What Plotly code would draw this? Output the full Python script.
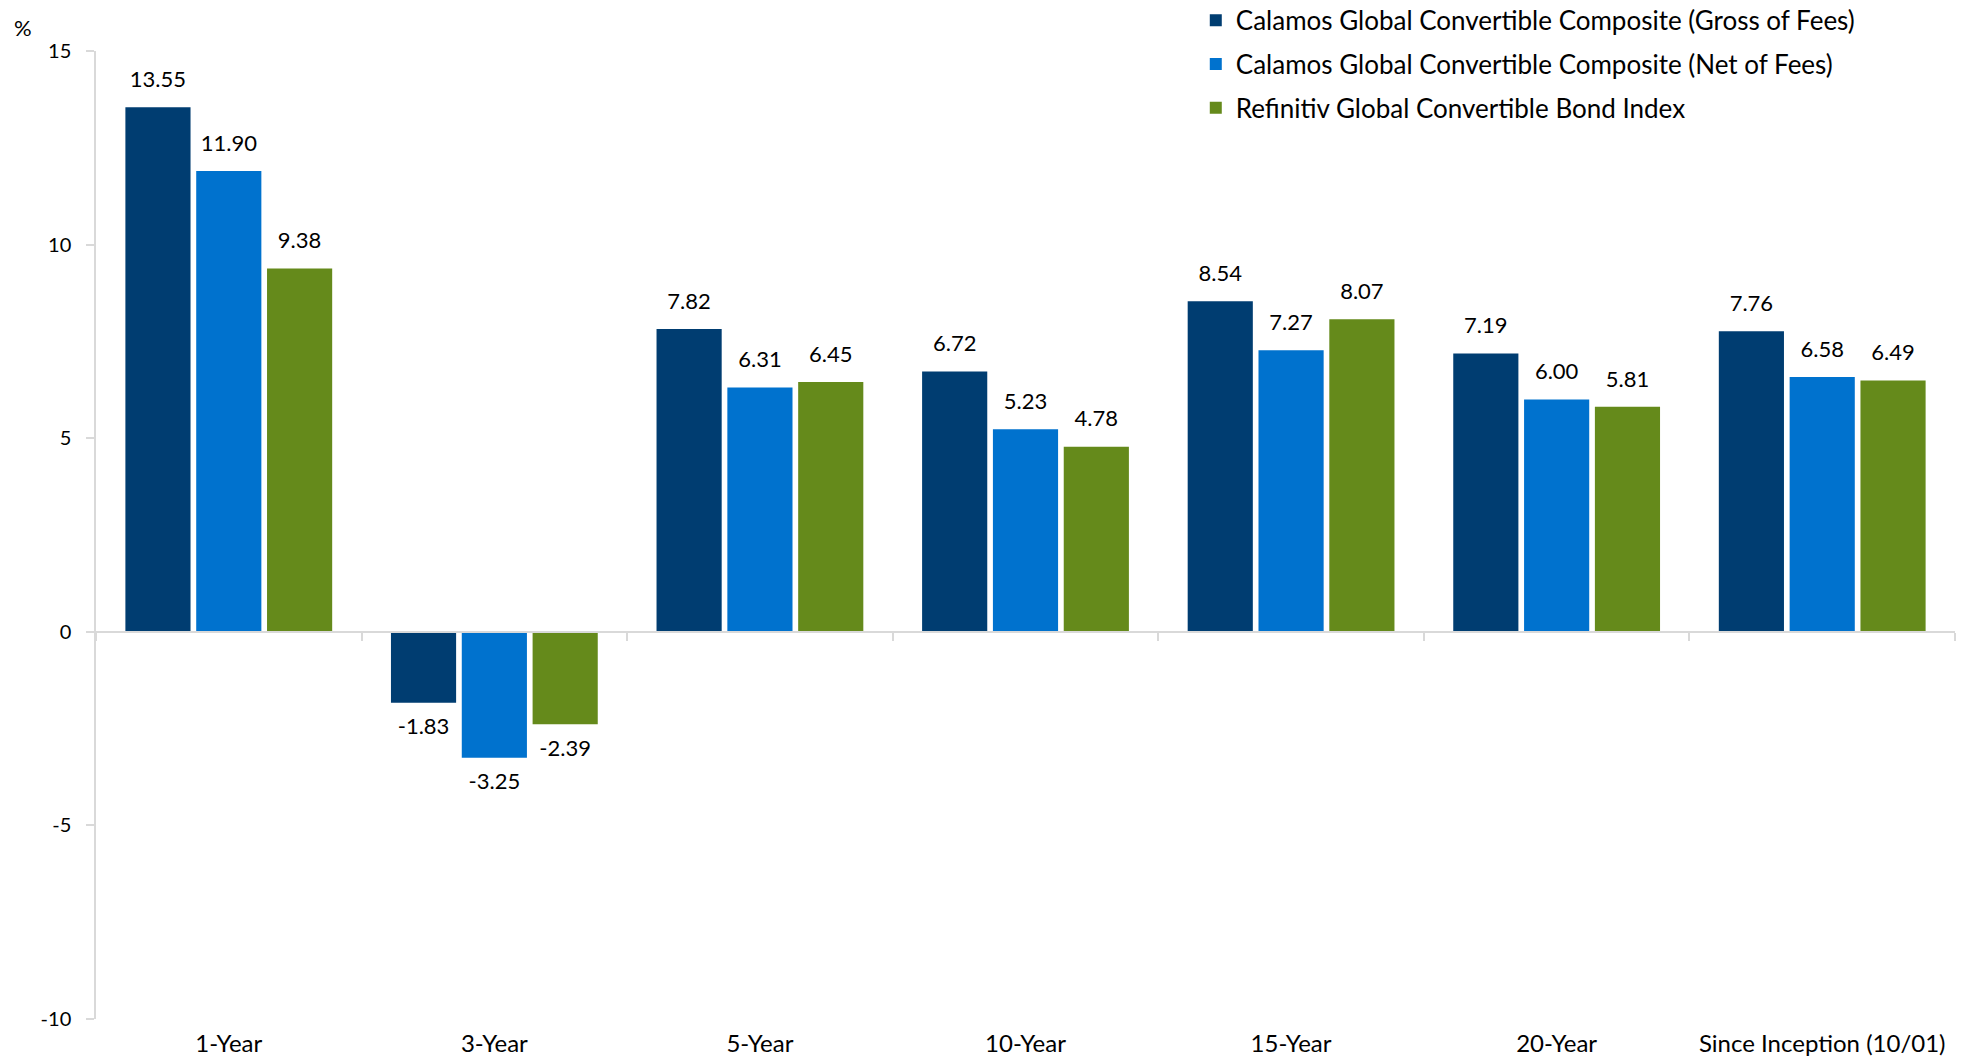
import plotly.graph_objects as go

categories = ["1-Year", "3-Year", "5-Year", "10-Year", "15-Year", "20-Year", "Since Inception (10/01)"]
series_names = [
    "Calamos Global Convertible Composite (Gross of Fees)",
    "Calamos Global Convertible Composite (Net of Fees)",
    "Refinitiv Global Convertible Bond Index",
]
gross = [13.55, -1.83, 7.82, 6.72, 8.54, 7.19, 7.76]
net = [11.90, -3.25, 6.31, 5.23, 7.27, 6.00, 6.58]
index_vals = [9.38, -2.39, 6.45, 4.78, 8.07, 5.81, 6.49]
colors = ["#003D71", "#0072CE", "#658A1B"]

y_tickvals = [15, 10, 5, 0, -5, -10]
y_ticktext = ["15", "10", "5", "0", "-5", "-10"]

FONT = "Lato"
AX = "#D9D9D9"

fig = go.Figure()
all_series = [gross, net, index_vals]
for i, (name, vals, col) in enumerate(zip(series_names, all_series, colors)):
    fig.add_trace(go.Bar(
        x=categories, y=vals, name=name, marker_color=col,
        marker_line_width=0, offsetgroup=str(i), legendgroup=str(i),
        hoverinfo="skip",
    ))
for i, vals in enumerate(all_series):
    fig.add_trace(go.Scatter(
        x=categories, y=vals, mode="markers+text",
        text=[f"{v:.2f}" for v in vals],
        textposition=["top center" if v >= 0 else "bottom center" for v in vals],
        textfont=dict(family=FONT, size=22, color="#000000"),
        marker=dict(size=22, opacity=0),
        offsetgroup=str(i), showlegend=False, hoverinfo="skip", cliponaxis=False,
    ))
# helper trace to draw the category axis line at zero
fig.add_trace(go.Scatter(x=categories, y=[None] * len(categories), xaxis="x2",
                         showlegend=False, hoverinfo="skip", mode="lines"))

fig.update_layout(
    width=1966, height=1059,
    margin=dict(l=96, r=11, t=51, b=40, autoexpand=False),
    paper_bgcolor="white", plot_bgcolor="white",
    barmode="group", bargap=0.2, bargroupgap=0.08,
    scattermode="group", scattergap=0.2,
    font=dict(family=FONT, color="#000000"),
    showlegend=True,
    legend=dict(
        x=0.5916, y=1.056, xanchor="left", yanchor="top",
        font=dict(family=FONT, size=26, color="#000000"),
        traceorder="grouped", tracegroupgap=7,
        bgcolor="rgba(0,0,0,0)",
    ),
    xaxis=dict(
        type="category", categoryorder="array", categoryarray=categories,
        range=[-0.5, 6.5], showline=False, ticks="", showgrid=False, zeroline=False,
        tickfont=dict(family=FONT, size=24, color="#000000"), ticklabelstandoff=8,
        automargin=False,
    ),
    xaxis2=dict(
        type="category", categoryorder="array", categoryarray=categories,
        range=[-0.5, 6.5], overlaying="x", anchor="free", position=0.4,
        showline=True, linecolor=AX, linewidth=1.5,
        ticks="outside", tickson="boundaries", ticklen=8, tickcolor=AX, tickwidth=1.5,
        showticklabels=False, showgrid=False, zeroline=False, automargin=False,
    ),
    yaxis=dict(
        range=[-10, 15], tickvals=y_tickvals, ticktext=y_ticktext,
        showline=True, linecolor=AX, linewidth=1.5,
        ticks="outside", ticklen=8, tickcolor=AX, tickwidth=1.5,
        showgrid=False, zeroline=False, automargin=False,
        tickfont=dict(family=FONT, size=20, color="#000000"), ticklabelstandoff=11,
    ),
    annotations=[dict(
        text="%", xref="paper", yref="paper", x=-0.045, y=1.024,
        xanchor="left", yanchor="middle", showarrow=False,
        font=dict(family=FONT, size=22, color="#000000"),
    )],
)

fig.write_html(
    "out.html",
    config={"displayModeBar": False},
    post_script="document.body.style.margin='0';document.body.style.overflow='hidden';",
)
